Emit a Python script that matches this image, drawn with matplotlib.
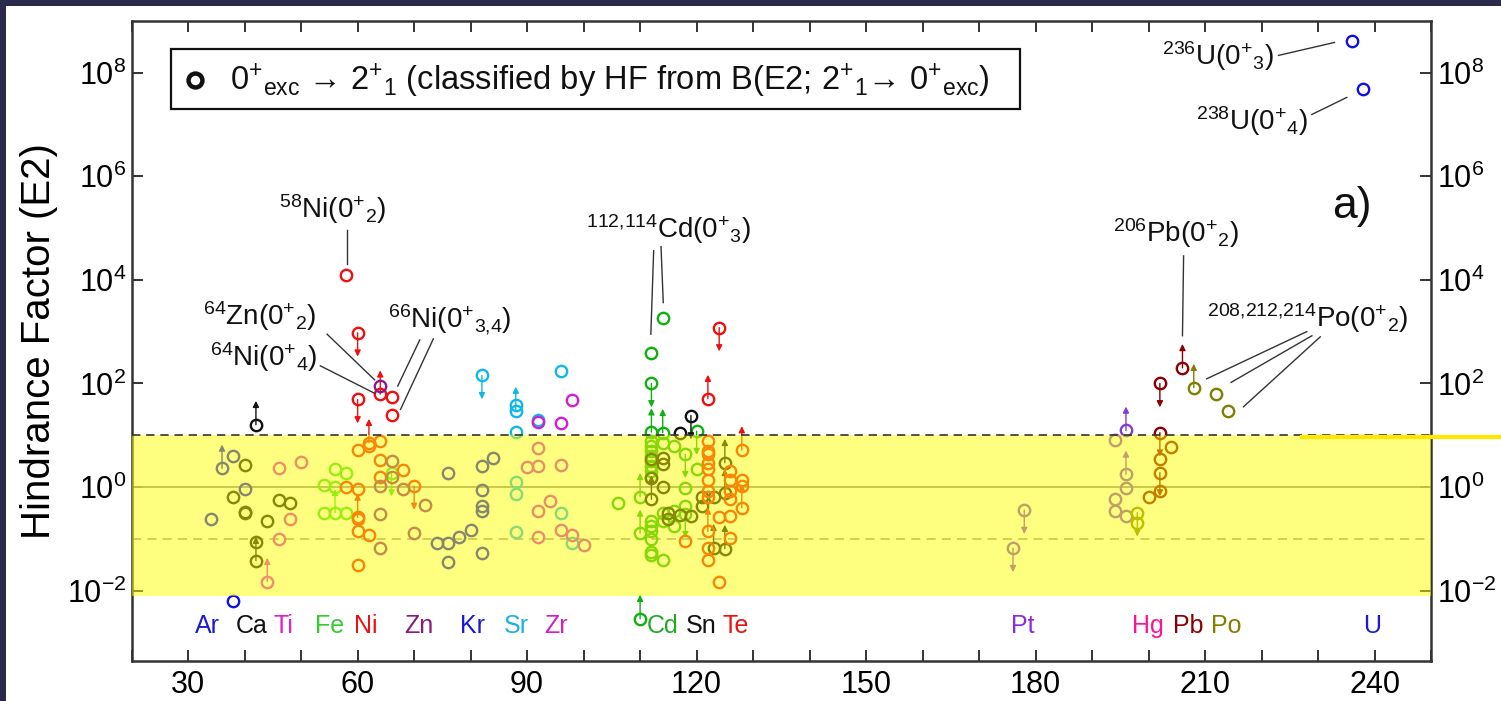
import numpy as np
import matplotlib
matplotlib.use("Agg")
import matplotlib.pyplot as plt
from matplotlib.patches import Rectangle
from matplotlib.lines import Line2D
from matplotlib.ticker import FixedLocator, MultipleLocator, NullLocator

plt.rcParams["font.family"] = ["Liberation Sans", "DejaVu Sans"]
plt.rcParams["mathtext.fontset"] = "custom"
plt.rcParams["mathtext.rm"] = "Liberation Sans"
plt.rcParams["mathtext.it"] = "Liberation Sans:italic"
plt.rcParams["mathtext.bf"] = "Liberation Sans:bold"

# ---- data: mass number A, hindrance factor, limit (1 up, -1 down, 0 none)
ar_A = [38, 34, 36, 38, 40]
ar_HF = [0.0063, 0.24, 2.3, 3.9, 0.93]
ar_lim = [0, 0, 1, 0, 0]

ca_A = [42, 40, 38, 40, 40, 44, 42, 42, 46, 48]
ca_HF = [16, 2.7, 0.63, 0.31, 0.33, 0.22, 0.089, 0.038, 0.56, 0.49]
ca_lim = [1, 0, 0, 0, 0, 0, 0, 1, 0, 0]

ti_A = [46, 50, 48, 46, 44]
ti_HF = [2.3, 3.1, 0.245, 0.1, 0.015]
ti_lim = [0, 0, 0, 0, 1]

fe_A = [54, 56, 58, 56, 54, 56, 58, 66]
fe_HF = [1.1, 2.2, 1.9, 1.0, 0.31, 0.32, 0.31, 1.9]
fe_lim = [0, 0, 0, 0, 0, 1, 0, -1]

ni_A = [58, 60, 60, 64, 66, 66, 58, 60, 60, 60, 62, 60, 60, 60, 62, 62, 64, 64, 64, 68, 70]
ni_HF = [12600, 950, 49, 62, 55, 25, 1.0, 0.9, 0.24, 0.26, 0.12, 0.145, 0.032,
         5.1, 6.2, 7.2, 7.6, 3.4, 1.6, 2.1, 1.05]
ni_lim = [0, -1, -1, 1, 0, 0, 0, 0, 0, 1, 0, 0, 0, 0, 0, 1, 0, 0, 0, 0, -1]

zn_A = [64, 66, 66, 68, 64, 64, 64, 70, 72]
zn_HF = [89, 3.2, 1.6, 0.93, 1.07, 0.3, 0.066, 0.13, 0.45]
zn_lim = [0, 0, 0, 0, 0, 0, 0, 0, 0]

kr_A = [76, 74, 76, 76, 78, 80, 82, 84, 82, 82, 82, 82]
kr_HF = [1.9, 0.082, 0.082, 0.036, 0.108, 0.148, 2.5, 3.7, 0.86, 0.43, 0.35, 0.054]
kr_lim = [0] * 12

sr_A = [82, 88, 88, 88, 92, 96, 88, 88, 88, 96, 98]
sr_HF = [143, 30, 38, 11.7, 20, 174, 1.25, 0.75, 0.137, 0.32, 0.085]
sr_lim = [-1, 1, 0, 0, 0, 0, 0, 0, 0, 0, 0]

zr_A = [92, 96, 98, 92, 90, 92, 96, 92, 94, 92, 96, 98, 100]
zr_HF = [18, 17, 48, 5.8, 2.4, 2.5, 2.7, 0.34, 0.54, 0.108, 0.148, 0.12, 0.075]
zr_lim = [0] * 13

cd_A = [112, 112, 114, 112, 114, 120, 110, 106, 110, 110,
        112, 112, 112, 112, 112, 112, 112, 112,
        112, 112, 112, 112, 112, 112,
        114, 114, 114, 114, 116, 116, 116, 118, 118, 118, 118, 120]
cd_HF = [390, 100, 1860, 11.5, 11.2, 12, 0.0029, 0.5, 0.65, 0.128,
         7.8, 6.2, 4.9, 4.0, 3.2, 2.6, 2.0, 1.6,
         0.22, 0.18, 0.14, 0.1, 0.056, 0.05,
         0.04, 0.22, 7.2, 0.32, 6.2, 0.18, 0.35, 4.3, 0.98, 0.43, 0.3, 2.2]
cd_lim = [0, -1, 0, 1, 1, -1, 1, 0, 1, 1,
          0, 0, 0, 0, 0, 0, 0, 0,
          0, 0, 0, 0, 0, 0,
          0, 0, 0, 0, 0, 0, 0, -1, 0, 0, -1, 0]

sn_A = [117, 119, 112, 112, 112, 114, 114, 114, 115, 115, 117, 119, 121, 121, 123, 125, 125, 123, 125]
sn_HF = [11, 24, 3.5, 1.5, 0.58, 3.7, 2.75, 1.0, 0.32, 0.24, 0.29, 0.28, 0.63, 0.43, 0.63,
         2.95, 0.78, 0.068, 0.065]
sn_lim = [0, -1, 0, 0, 1, 0, 0, 0, 0, 0, 0, 0, 0, 0, 0, 1, 1, 1, 1]

te_A = [122, 124, 128, 122, 122, 122, 122, 122, 122, 122, 122, 122, 122, 122,
        118, 124, 124, 126, 126, 126, 126, 126, 126, 128, 128, 128]
te_HF = [51, 1200, 5.2, 7.8, 4.9, 4.3, 2.95, 2.2, 1.4, 0.83, 0.63, 0.14, 0.068, 0.04,
         0.091, 0.26, 0.015, 2.0, 1.4, 0.83, 0.58, 0.275, 0.105, 1.4, 1.05, 0.4]
te_lim = [1, -1, 1, 0, 0, 0, 0, 0, 0, 0, 0, 1, 0, 0,
          0, 0, 0, 0, 0, 0, 0, 0, 0, 0, 0, 1]

pt_A = [178, 176]
pt_HF = [0.36, 0.066]
pt_lim = [-1, -1]

hg_A = [194, 196, 196, 196, 194, 194, 196]
hg_HF = [8.1, 12.4, 1.76, 0.98, 0.6, 0.35, 0.28]
hg_lim = [0, 1, 1, 0, 0, 0, 0]

hg198_A = [198, 198]
hg198_HF = [0.32, 0.2]
hg198_lim = [-1, 0]

pb_A = [202, 202, 206, 202, 202, 202, 200, 204]
pb_HF = [100, 11.2, 200, 3.5, 1.9, 0.83, 0.63, 6.0]
pb_lim = [-1, -1, 1, 0, -1, 0, 0, 0]

po_A = [208, 212, 214]
po_HF = [83, 63, 30]
po_lim = [1, 0, 0]

u_A = [236, 238]
u_HF = [4.1e8, 4.9e7]
u_lim = [0, 0]

# element labels along the bottom
el_names = ["Ar", "Ca", "Ti", "Fe", "Ni", "Zn", "Kr", "Sr", "Zr", "Cd", "Sn", "Te",
            "Pt", "Hg", "Pb", "Po", "U"]
el_A = [33.5, 41.2, 46.9, 55.0, 61.4, 70.8, 80.3, 88.1, 95.2, 114.0, 120.8, 127.0,
        177.8, 199.8, 207.0, 213.8, 239.6]
el_colors = ["#1a1ad0", "#111111", "#e020c8", "#33cc33", "#ee1111", "#8b1a7b", "#1a1ad0",
             "#20b0e0", "#d020c8", "#22aa22", "#111111", "#ee1111",
             "#8a2be2", "#ff1493", "#8b0000", "#808000", "#1a1ad0"]

groups = [
    (ar_A, ar_HF, ar_lim, "#1010e0"),
    (ca_A, ca_HF, ca_lim, "#111111"),
    (ti_A, ti_HF, ti_lim, "#e020c8"),
    (fe_A, fe_HF, fe_lim, "#33dd22"),
    (ni_A, ni_HF, ni_lim, "#ee1010"),
    (zn_A, zn_HF, zn_lim, "#8b1a8b"),
    (kr_A, kr_HF, kr_lim, "#1010e0"),
    (sr_A, sr_HF, sr_lim, "#10b8e8"),
    (zr_A, zr_HF, zr_lim, "#d020d0"),
    (cd_A, cd_HF, cd_lim, "#11b011"),
    (sn_A, sn_HF, sn_lim, "#111111"),
    (te_A, te_HF, te_lim, "#ee1010"),
    (pt_A, pt_HF, pt_lim, "#8040d0"),
    (hg_A, hg_HF, hg_lim, "#8040d0"),
    (hg198_A, hg198_HF, hg198_lim, "#808000"),
    (pb_A, pb_HF, pb_lim, "#8b0000"),
    (po_A, po_HF, po_lim, "#808000"),
    (u_A, u_HF, u_lim, "#1010e0"),
]

# annotations: text, x, y (data)
notes = [
    (r"$^{58}$Ni(0$^{+}{}_{2}$)", 55.5, 10**5.36),
    (r"$^{64}$Zn(0$^{+}{}_{2}$)", 42.6, 10**3.30),
    (r"$^{64}$Ni(0$^{+}{}_{4}$)", 43.4, 10**2.50),
    (r"$^{66}$Ni(0$^{+}{}_{3{,}4}$)", 76.3, 10**3.22),
    (r"$^{112{,}114}$Cd(0$^{+}{}_{3}$)", 115.1, 10**4.97),
    (r"$^{206}$Pb(0$^{+}{}_{2}$)", 204.9, 10**4.91),
    (r"$^{208{,}212{,}214}$Po(0$^{+}{}_{2}$)", 228.1, 10**3.27),
    (r"$^{236}$U(0$^{+}{}_{3}$)", 212.2, 10**8.32),
    (r"$^{238}$U(0$^{+}{}_{4}$)", 218.3, 10**7.07),
]
leaders = [
    ((58.2, 58.2), (4.97, 4.30)),
    ((54.6, 63.0), (2.95, 2.07)),
    ((53.4, 63.0), (2.34, 1.81)),
    ((71.0, 67.1), (2.84, 1.95)),
    ((73.4, 67.6), (2.86, 1.50)),
    ((112.4, 111.9), (4.56, 2.95)),
    ((113.7, 114.1), (4.64, 3.56)),
    ((206.2, 206.0), (4.46, 2.92)),
    ((228.0, 210.3), (3.00, 2.09)),
    ((228.9, 214.6), (2.92, 2.02)),
    ((230.4, 216.8), (2.90, 1.55)),
    ((223.0, 232.9), (8.33, 8.58)),
    ((228.9, 235.1), (7.19, 7.52)),
]

fig = plt.figure(figsize=(15.01, 7.01), dpi=100, facecolor="white")
ax = fig.add_axes([0.0877, 0.0575, 0.8657, 0.913])

for A, HF, lim, col in groups:
    ax.plot(A, HF, "o", mfc="none", mec=col, ms=8.2, mew=1.7, zorder=3, ls="none")
    for a, h, d in zip(A, HF, lim):
        if d != 0:
            ax.annotate("", xy=(a, h * 10 ** (0.46 * d)), xytext=(a, h),
                        arrowprops=dict(arrowstyle="-|>", color=col, lw=1.0,
                                        mutation_scale=9, shrinkA=0, shrinkB=0),
                        zorder=3)

# reference lines and band
ax.axhline(1.0, color="#8a8a8a", lw=1.3, zorder=2)
ax.axhline(0.1, color="#8a8a8a", lw=1.1, ls=(0, (6, 4)), zorder=2)
ax.axhspan(10 ** -2.1, 10, color="#ffff00", alpha=0.5, lw=0, zorder=4)
ax.axhline(10, color="#333333", lw=1.2, ls=(0, (5, 3.5)), zorder=5)

for name, a, c in zip(el_names, el_A, el_colors):
    ax.text(a, 10 ** -2.68, name, color=c, fontsize=18, ha="center", va="center", zorder=6)

for txt, x, y in notes:
    ax.text(x, y, txt, fontsize=20, ha="center", va="center", color="#111111", zorder=6)
for xs, ls_ in leaders:
    ax.plot(xs, [10 ** v for v in ls_], color="#333333", lw=1.0, zorder=6)

ax.text(236.0, 10 ** 5.42, "a)", fontsize=32, ha="center", va="center", color="#111111")

# legend box
ax.add_patch(Rectangle((0.0302, 0.8616), 0.6535, 0.0942, transform=ax.transAxes,
                       fill=False, ec="#111111", lw=1.6, zorder=7))
ax.plot([0.0487], [0.9078], "o", mfc="none", mec="#111111", ms=10, mew=3.2,
        transform=ax.transAxes, zorder=7, clip_on=False)
ax.text(0.0755, 0.906,
        "0$^{+}{}_{\\mathrm{exc}}$ \u2192 2$^{+}{}_{1}$ (classified by HF from B(E2; 2$^{+}{}_{1}$\u2192 0$^{+}{}_{\\mathrm{exc}}$)",
        transform=ax.transAxes, fontsize=23.5, ha="left", va="center", color="#111111", zorder=7)

ax.set_xlim(20, 250)
ax.set_yscale("log")
ax.set_ylim(10 ** -3.35, 1e9)

ax.xaxis.set_major_locator(MultipleLocator(30))
ax.xaxis.set_minor_locator(MultipleLocator(10))
ax.yaxis.set_major_locator(FixedLocator([1e-2, 1e0, 1e2, 1e4, 1e6, 1e8]))
ax.yaxis.set_minor_locator(NullLocator())
ax.tick_params(axis="both", which="both", direction="in", top=True, right=True,
               length=8, width=1.4, color="#333333")
ax.tick_params(axis="x", labelsize=22, pad=7)
ax.tick_params(axis="y", labelsize=22, pad=4, labelright=True)
for s in ax.spines.values():
    s.set_linewidth(1.8)
    s.set_color("#333333")

ax.set_ylabel("Hindrance Factor (E2)", fontsize=29, va="center")
ax.yaxis.set_label_coords(-0.0713, 0.5)

# dark frame edges and stray yellow line outside the axes
fig.add_artist(Rectangle((0, 0), 6 / 1501, 1, transform=fig.transFigure,
                         color="#2b2a4c", lw=0, zorder=10))
fig.add_artist(Rectangle((0, 1 - 6 / 701), 1, 6 / 701, transform=fig.transFigure,
                         color="#2b2a4c", lw=0, zorder=10))
fig.add_artist(Line2D([1301.7 / 1501, 1.0], [1 - 436.7 / 701] * 2, transform=fig.transFigure,
                      color="#ffe800", lw=3, zorder=10))

fig.savefig("out.png", dpi=100, facecolor="white")
